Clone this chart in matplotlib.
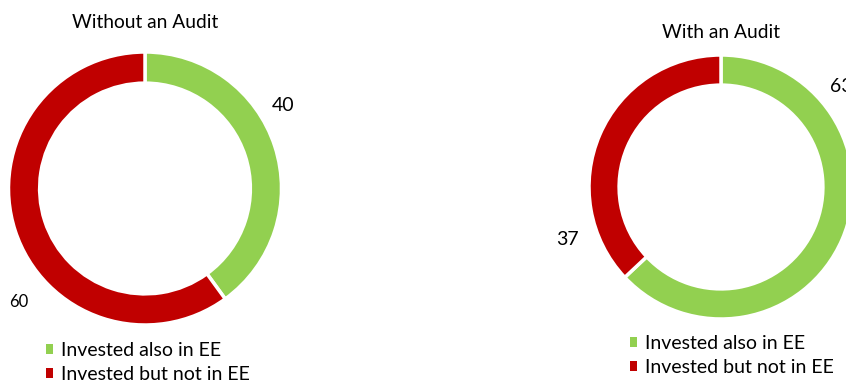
import matplotlib
matplotlib.use("Agg")
import matplotlib.pyplot as plt
from matplotlib.patches import Patch
import numpy as np

plt.rcParams['font.family'] = ['Lato', 'DejaVu Sans']

categories = ["Invested also in EE", "Invested but not in EE"]
without_audit = [40, 60]
with_audit = [63, 37]
titles = ["Without an Audit", "With an Audit"]
colors = ["#92D050", "#C00000"]

W, H = 846, 381
fig = plt.figure(figsize=(W / 100, H / 100), dpi=100)

def add_donut(cx, cy, r, values, title, title_y, label_specs, legend_xy, label_sizes):
    ax = fig.add_axes([(cx - r) / W, 1 - (cy + r) / H, 2 * r / W, 2 * r / H])
    wedges, _ = ax.pie(values, colors=colors, startangle=90, counterclock=False,
                       radius=1.0,
                       wedgeprops=dict(width=0.228, edgecolor="white", linewidth=2.5))
    ax.set_xlim(-1, 1)
    ax.set_ylim(-1, 1)
    ax.set_aspect("equal")
    ax.axis("off")
    for v, (ang, dist), fs in zip(values, label_specs, label_sizes):
        a = np.deg2rad(ang)
        ax.text(dist * np.cos(a), dist * np.sin(a), str(v), ha="center", va="center",
                fontsize=fs, color="#000000", clip_on=False)
    fig.text(cx / W, 1 - title_y / H, title, ha="center", va="center", fontsize=13.8)
    handles = [Patch(facecolor=w.get_facecolor(), edgecolor="none") for w in wedges]
    fig.legend(handles, categories, loc="upper left",
               bbox_to_anchor=(legend_xy[0] / W, 1 - legend_xy[1] / H),
               frameon=False, fontsize=14, handlelength=0.36, handleheight=0.36,
               handletextpad=0.42, labelspacing=0.36, borderpad=0, borderaxespad=0)
    return ax

add_donut(145, 188.5, 136.5, without_audit, titles[0], 23,
          [(31, 1.18), (222, 1.24)], (46, 342), [14, 12])
add_donut(721, 187, 132, with_audit, titles[1], 33,
          [(40, 1.19), (199, 1.23)], (630, 335), [14, 14])

fig.savefig("out.png", dpi=100)
